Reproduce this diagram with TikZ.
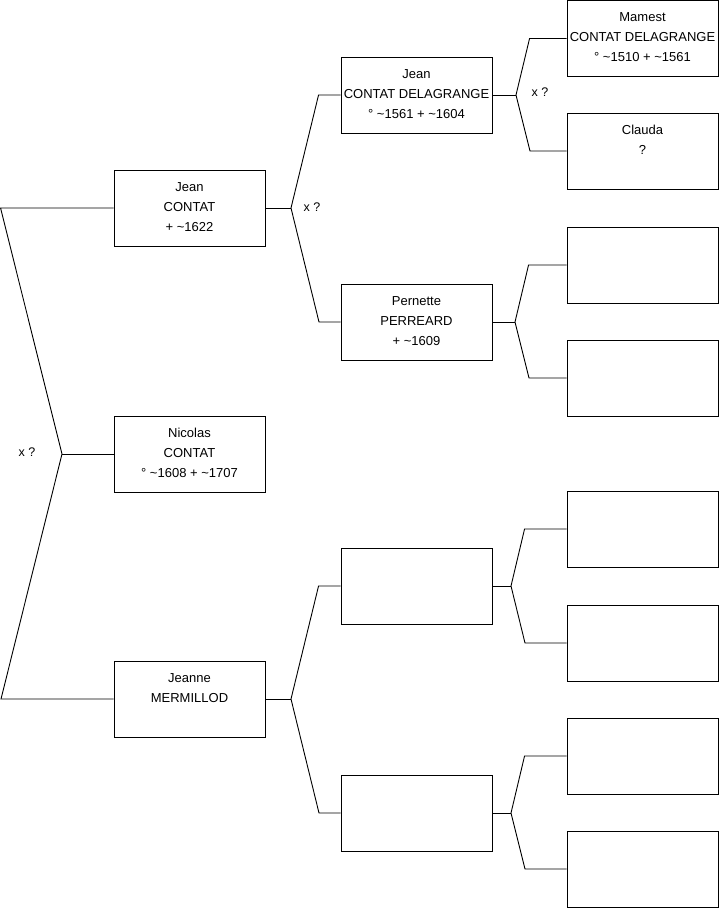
\documentclass[tikz,border=0pt]{standalone}
\usepackage{fontspec}
\setmainfont{Liberation Sans}
\usepackage{tikz}
\usetikzlibrary{positioning,calc}
\newcommand{\famtext}[1]{\parbox[c][76pt][t]{151pt}{\centering\fontsize{13}{20}\selectfont\rule{0pt}{21pt}#1}}

\begin{document}
\begin{tikzpicture}[x=1pt,y=-1pt,line width=0.9pt,person/.style={draw,inner sep=0pt},every node/.style={font=\fontsize{12.5}{15}\selectfont}]
\useasboundingbox (0,0) rectangle (719,908);
\node[person](jean) at (189.5,208){\famtext{Jean\\CONTAT\\+ \textasciitilde1622}};
\node[person](nicolas) at (189.5,454){\famtext{Nicolas\\CONTAT\\° \textasciitilde1608 + \textasciitilde1707}};
\node[person](jeanne) at (189.5,699){\famtext{Jeanne\\MERMILLOD}};
\node[person](jeancd) at (416.5,95){\famtext{Jean\\CONTAT DELAGRANGE\\° \textasciitilde1561 + \textasciitilde1604}};
\node[person](pernette) at (416.5,322){\famtext{Pernette\\PERREARD\\+ \textasciitilde1609}};
\node[person](mfather) at (416.5,586){\famtext{}};
\node[person](mmother) at (416.5,813){\famtext{}};
\node[person](mamest) at (642.5,38.5){\famtext{Mamest\\CONTAT DELAGRANGE\\° \textasciitilde1510 + \textasciitilde1561}};
\node[person](clauda) at (642.5,151){\famtext{Clauda\\?}};
\node[person](pfather) at (642.5,265){\famtext{}};
\node[person](pmother) at (642.5,378){\famtext{}};
\node[person](mff) at (642.5,529){\famtext{}};
\node[person](mfm) at (642.5,643){\famtext{}};
\node[person](mmf) at (642.5,756){\famtext{}};
\node[person](mmm) at (642.5,869){\famtext{}};
\coordinate (v0) at (62,454); \coordinate (v1) at (291,208); \coordinate (v2) at (516,95); \coordinate (v3) at (515,322);
\coordinate (v4) at (291,699); \coordinate (v5) at (511,586); \coordinate (v6) at (511,813);
\node(q0) at (27,452){x ?}; \node(q1) at (312,207){x ?}; \node(q2) at (540,92){x ?};
\draw (jean.west)--++(-113,0)--(v0)--++(-61,245)--(jeanne.west); \draw (v0)--(nicolas.west);
\draw (jean.east)--(v1); \draw (jeancd.west)--++(-22,0)--(v1)--++(28,114)--(pernette.west);
\draw (jeancd.east)--(v2); \draw (mamest.west)--++(-37,0)--(v2)--++(14,56)--(clauda.west);
\draw (pernette.east)--(v3); \draw (pfather.west)--++(-38,0)--(v3)--++(14,56)--(pmother.west);
\draw (jeanne.east)--(v4); \draw (mfather.west)--++(-22,0)--(v4)--++(28,114)--(mmother.west);
\draw (mfather.east)--(v5); \draw (mff.west)--++(-42,0)--(v5)--++(14,57)--(mfm.west);
\draw (mmother.east)--(v6); \draw (mmf.west)--++(-42,0)--(v6)--++(14,56)--(mmm.west);
\end{tikzpicture}
\end{document}
